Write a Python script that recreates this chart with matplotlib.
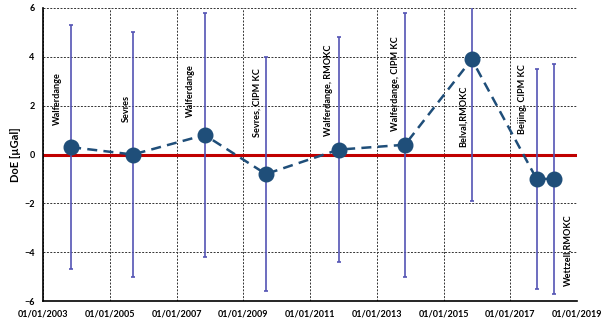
from matplotlib import pyplot as plt
import matplotlib.dates as mdates
import numpy as np
from datetime import datetime

plt.rcParams['font.family'] = ['Lato', 'DejaVu Sans']

# comparaciones (fecha aproximada, DoE, incertidumbre)
fechas = ['2003-11-05', '2005-09-10', '2007-11-05', '2009-09-05', '2011-11-10',
          '2013-11-05', '2015-11-05', '2017-10-15', '2018-04-20']
doe = [0.3, 0.0, 0.8, -0.8, 0.2, 0.4, 3.9, -1.0, -1.0]
incert = [5.0, 5.0, 5.0, 4.8, 4.6, 5.4, 5.8, 4.5, 4.7]
etiquetas = ['Walferdange', 'Sevres', 'Walferdange', 'Sevres, CIPM KC',
             'Walferdange, RMOKC', 'Walferdange, CIPM KC', 'Belval,RMOKC',
             'Beijing, CIPM KC', 'Wettzell,RMOKC']
base_etiqueta = [1.2, 1.35, 1.55, 0.7, 0.75, 0.95, 0.3, 0.85, -5.4]
desplaz = [-10, -5, -10, -6, -7, -7, -6, -10, 10]   # en puntos

x = [datetime.strptime(f, '%Y-%m-%d') for f in fechas]

fig = plt.figure(figsize=(6.09, 3.29), dpi=100)
ax = fig.add_axes([0.0706, 0.085, 0.877, 0.8907])

ax.axhline(0, color='#C00000', lw=2.2, zorder=2)
ax.errorbar(x, doe, yerr=incert, fmt='none', ecolor='#5454B4', elinewidth=1.2,
            capsize=1.5, capthick=1.2, zorder=3)
ax.plot(x, doe, ls='--', color='#1F4E79', lw=1.8, marker='o', markersize=10.5,
        dashes=(4, 2.5), zorder=4)

for xi, yb, d, t in zip(x, base_etiqueta, desplaz, etiquetas):
    ax.annotate(t, xy=(xi, yb), xytext=(d, 0), textcoords='offset points',
                rotation=90, ha='center', va='bottom', fontsize=6.6,
                fontweight='bold')

ax.set_ylim(-6, 6)
ax.set_yticks(np.arange(-6, 7, 2))
ax.set_xlim(datetime(2003, 1, 1), datetime(2019, 1, 1))
ax.set_xticks([datetime(a, 1, 1) for a in range(2003, 2020, 2)])
ax.xaxis.set_major_formatter(mdates.DateFormatter('%d/%m/%Y'))
ax.tick_params(labelsize=6.5, length=0, pad=6)
for lab in ax.get_xticklabels() + ax.get_yticklabels():
    lab.set_fontweight('bold')
ax.grid(True, ls=(0, (2, 1.5)), color='#333333', lw=0.7)
ax.spines['top'].set_visible(False)
ax.spines['right'].set_visible(False)
ax.spines['left'].set_linewidth(1.2)
ax.spines['bottom'].set_linewidth(1.2)
ax.set_ylabel('DoE [\u00b5Gal]', fontsize=8, fontweight='bold', labelpad=2)

fig.savefig('out.png', dpi=100)
